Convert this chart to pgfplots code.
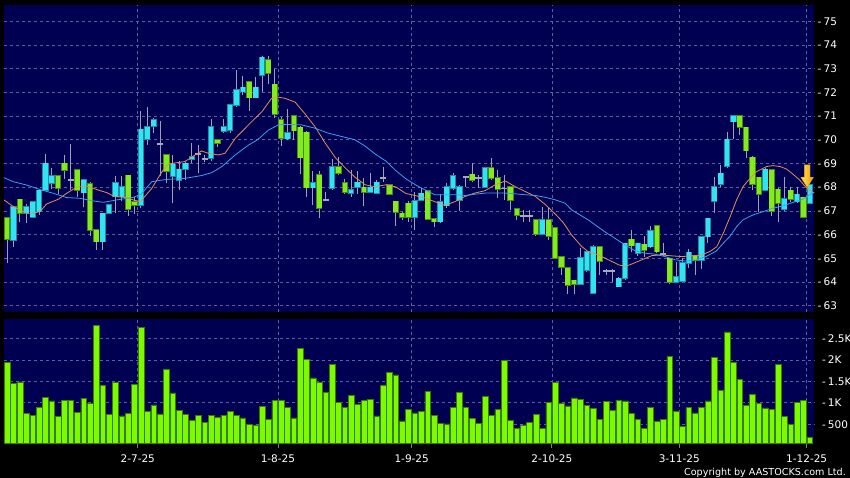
\documentclass[border=0pt]{standalone}
\usepackage{fontspec}
\setmainfont{DejaVu Sans}
\usepackage{pgfplots}
\usepackage{pgfplotstable}
\pgfplotsset{compat=1.18}
\definecolor{bgnavy}{RGB}{0,0,82}
\definecolor{gridcol}{RGB}{95,95,155}
\definecolor{upfill}{RGB}{50,228,242}
\definecolor{upedge}{RGB}{30,140,165}
\definecolor{dnfill}{RGB}{130,235,30}
\definecolor{dnedge}{RGB}{70,140,20}
\definecolor{djcol}{RGB}{165,170,185}
\definecolor{wickcol}{RGB}{160,160,178}
\definecolor{volfill}{RGB}{124,250,0}
\definecolor{voledge}{RGB}{55,125,0}
\definecolor{macolA}{RGB}{232,140,90}
\definecolor{macolB}{RGB}{60,160,240}
\definecolor{arrowA}{RGB}{255,225,90}
\definecolor{arrowB}{RGB}{235,160,0}
\newcommand\lab{\fontsize{10.5}{12}\selectfont}

% up candles: i open high low close
\pgfplotstableread{
i o h l c
2 65.77 67.20 65.49 67.18
4 66.90 67.30 66.50 67.18
5 66.73 67.40 66.70 67.39
6 66.97 67.88 66.83 67.86
7 67.88 69.39 67.85 69.00
8 68.16 68.80 67.91 68.49
13 67.77 68.35 67.15 68.31
16 65.70 66.90 65.35 66.90
17 66.90 67.25 66.88 67.24
18 67.60 68.45 66.90 68.19
19 67.60 68.49 67.40 68.02
22 67.25 71.20 67.10 70.44
23 70.02 71.37 69.80 70.55
24 70.58 70.90 70.30 70.83
27 68.45 69.36 67.32 68.96
28 68.30 69.10 67.88 68.75
29 68.75 69.05 68.30 69.00
30 69.18 69.85 69.00 69.28
33 69.22 70.88 69.10 70.55
35 70.37 70.88 70.30 70.55
36 70.40 71.50 70.30 71.46
37 71.46 72.95 71.40 72.12
38 72.03 72.70 71.90 72.21
40 71.78 72.66 71.75 72.21
41 72.73 73.55 72.03 73.48
45 70.05 71.28 70.00 70.28
49 67.98 68.70 67.26 68.19
52 67.95 69.17 67.90 68.86
55 67.75 68.72 67.60 67.89
56 68.00 68.70 67.70 68.20
58 67.80 68.60 67.75 67.99
59 67.76 68.30 67.70 68.20
65 66.74 67.80 66.20 67.43
66 67.45 67.95 67.40 67.74
69 66.55 67.70 66.50 67.39
70 67.22 68.16 67.10 68.02
71 67.95 68.58 67.90 68.49
72 67.46 68.10 66.99 68.02
76 67.99 68.85 67.95 68.82
85 66.01 67.18 66.00 66.61
91 63.90 65.42 63.85 65.02
92 64.50 65.35 64.40 65.28
93 63.52 65.55 63.50 65.49
97 63.80 64.20 63.80 64.15
98 64.15 65.65 64.10 65.63
100 65.20 65.65 65.10 65.63
102 65.49 66.38 65.45 66.15
106 63.99 64.86 63.95 64.22
107 64.04 65.00 64.00 64.79
108 64.79 65.39 64.58 65.25
110 64.93 65.95 64.55 65.91
111 65.91 66.70 65.66 66.68
112 67.42 68.41 66.90 68.02
113 68.12 68.94 67.99 68.58
114 68.90 70.34 68.80 70.02
115 70.76 71.02 70.02 71.01
120 67.88 68.80 67.85 68.75
123 67.07 68.41 66.98 67.52
125 67.39 67.99 67.35 67.70
127 67.32 68.20 67.30 68.09
}\upc

% down candles: i open high low close
\pgfplotstableread{
i o h l c
1 66.69 66.75 64.79 65.80
3 67.49 67.50 66.52 66.90
9 68.49 68.52 67.71 67.95
10 69.00 69.35 68.35 68.72
12 68.73 68.75 67.60 67.88
14 68.14 68.20 65.92 66.20
15 66.20 66.22 65.35 65.70
20 68.50 68.50 66.80 67.07
21 67.39 67.60 66.85 67.25
26 69.36 69.36 68.16 68.68
34 70.00 70.02 69.70 69.85
39 72.45 72.50 71.23 71.78
42 73.37 73.55 72.35 72.80
43 72.34 73.00 70.90 71.07
44 70.85 70.95 69.75 70.08
46 71.00 71.05 70.00 70.39
47 70.53 70.60 68.56 69.25
48 70.31 70.35 67.60 67.98
50 68.52 68.70 66.70 67.11
53 68.86 69.28 68.50 68.59
54 68.17 68.35 67.70 67.80
57 67.99 68.40 67.20 67.80
61 68.10 68.15 67.65 67.70
62 67.40 67.40 66.38 66.95
63 66.90 66.95 66.60 66.74
64 67.32 67.40 66.55 66.74
67 67.85 67.90 66.60 66.66
68 66.66 66.66 66.33 66.55
74 68.54 69.00 68.20 68.30
77 68.80 69.22 68.30 68.38
78 68.38 68.73 67.53 67.93
80 68.00 68.00 67.04 67.46
81 67.07 67.10 66.62 66.83
84 66.61 66.62 65.95 66.01
86 66.61 67.14 65.77 65.94
87 66.29 66.30 64.95 65.00
88 65.07 65.10 64.30 64.62
89 64.60 64.65 63.48 63.85
90 64.06 64.10 63.48 63.90
94 65.49 65.50 64.30 64.88
99 65.80 66.19 65.28 65.53
101 65.59 65.94 65.07 65.35
103 66.38 66.40 65.20 65.28
105 65.00 65.00 63.90 63.99
109 65.11 65.12 64.30 64.91
116 71.01 71.02 70.20 70.53
117 70.53 70.53 69.22 69.54
118 69.26 69.30 67.90 68.13
119 68.41 68.41 66.97 67.69
121 68.72 68.72 66.79 66.99
122 67.91 67.95 66.55 67.32
124 67.86 68.00 67.39 67.49
126 67.57 67.60 66.70 66.73
}\dnc

% doji candles: i open high low close
\pgfplotstableread{
i o h l c
11 68.30 69.82 67.88 68.30
25 69.81 70.79 68.45 69.81
31 69.40 69.78 68.60 69.40
32 69.20 69.35 69.05 69.20
51 67.45 67.80 67.40 67.45
60 68.38 68.87 68.20 68.38
73 68.42 68.45 68.00 68.42
75 68.40 68.50 67.95 68.40
79 67.95 68.52 67.46 67.95
82 66.78 67.04 66.52 66.78
83 66.78 67.04 66.55 66.78
95 64.46 64.55 64.30 64.46
96 64.46 64.55 63.99 64.46
104 65.17 65.66 65.10 65.17
}\djc

% short moving average (orange)
\pgfplotstableread{
i p
0.5 67.46
1.96 67.18
4.06 66.90
5.1 66.90
6.15 66.97
7.2 67.29
9.03 67.49
10.34 67.74
11.9 68.00
13.5 68.05
15.05 67.90
16.6 67.77
17.9 67.60
19.8 67.56
20.8 67.46
21.9 67.39
23.7 67.95
25.3 68.65
26.3 68.98
28.9 69.08
30.5 69.36
31.5 69.53
32.6 69.43
34.1 69.36
35.2 69.43
36.8 70.06
39.4 70.77
41.0 71.19
42.5 71.75
43.5 71.80
44.6 71.75
46.2 71.59
47.7 71.11
49.3 70.56
50.9 69.87
52.5 69.25
54.0 68.83
55.6 68.42
57.2 68.10
58.8 68.01
60.4 68.10
62.0 68.01
63.6 67.73
65.0 67.65
66.6 67.54
68.1 67.39
69.7 67.23
71.3 67.39
72.9 67.61
74.4 67.75
76.0 67.85
77.6 68.10
79.2 68.26
80.7 68.03
82.3 67.82
83.9 67.61
85.5 67.26
87.1 66.85
88.3 66.50
89.6 65.98
91.2 65.49
92.2 65.28
93.8 65.14
95.4 64.93
97.0 64.72
98.0 64.65
99.0 64.75
100.6 64.93
102.2 65.11
103.7 65.14
105.3 65.10
106.9 65.07
108.5 65.10
110.0 65.14
111.3 65.28
112.4 65.49
113.4 66.05
114.5 66.76
115.5 67.46
116.5 68.02
117.6 68.37
118.6 68.65
120.2 68.87
121.2 68.91
122.3 68.87
123.3 68.77
124.3 68.56
125.4 68.30
126.4 67.99
127.2 67.81
127.7 67.75
}\maA

% long moving average (blue)
\pgfplotstableread{
i p
0.5 68.40
1.96 68.23
4.06 68.09
6.15 67.90
8.25 67.74
10.34 67.56
12.4 67.53
14.5 67.42
16.1 67.36
18.2 67.46
20.8 67.57
22.0 67.70
23.7 68.23
25.3 68.30
26.3 68.33
28.9 68.37
31.5 68.49
33.1 68.61
34.7 68.87
36.8 69.36
38.9 69.78
40.4 70.02
42.0 70.41
43.6 70.63
44.5 70.65
47.2 70.63
49.3 70.49
51.4 70.28
53.5 70.14
55.6 70.00
57.2 69.73
58.8 69.39
60.4 69.11
62.0 68.70
63.6 68.35
65.2 68.08
66.7 67.87
68.1 67.68
69.7 67.68
71.3 67.68
72.9 67.65
74.4 67.70
76.0 67.75
79.2 67.75
80.7 67.72
82.3 67.68
83.9 67.65
85.5 67.57
87.1 67.46
88.6 67.32
89.6 67.04
92.2 66.62
94.8 66.12
96.4 65.84
98.0 65.56
99.6 65.31
101.2 65.21
102.7 65.17
104.3 65.07
105.9 64.93
107.5 64.88
109.1 64.93
110.7 65.07
112.3 65.30
113.4 65.63
114.5 65.94
115.5 66.33
116.5 66.62
118.1 66.83
119.7 66.97
121.2 67.11
122.8 67.21
124.3 67.35
125.9 67.49
127.2 67.71
127.7 67.80
}\maB

% volume
\pgfplotstableread{
i v
1 1942
2 1453
3 1484
4 756
5 709
6 895
7 1128
8 1042
9 677
10 1049
11 1065
12 770
13 1105
14 995
15 2809
16 1398
17 733
18 1468
19 693
20 756
21 1437
22 2756
23 802
24 949
25 740
26 1786
27 1228
28 816
29 723
30 584
31 716
32 553
33 700
34 663
35 716
36 793
37 716
38 647
39 500
40 467
41 909
42 616
43 1058
44 1058
45 886
46 647
47 2274
48 2012
49 1577
50 1477
51 1251
52 1895
53 1012
54 902
55 1165
56 965
57 1065
58 1088
59 693
60 1407
61 1716
62 1647
63 577
64 840
65 763
66 793
67 1258
68 709
69 514
70 507
71 886
72 1235
73 886
74 630
75 514
76 1158
77 709
78 840
79 1988
80 584
81 407
82 484
83 553
84 733
85 407
86 1002
87 1468
88 979
89 926
90 1112
91 1081
92 942
93 863
94 623
95 1035
96 816
97 1065
98 1042
99 747
100 623
101 407
102 902
103 570
104 616
105 2072
106 809
107 444
108 886
109 763
110 902
111 1042
112 2049
113 1291
114 2647
115 1942
116 1547
117 933
118 1188
119 979
120 879
121 849
122 1895
123 686
124 500
125 1002
126 1049
127 188
}\vol

\pgfplotsset{
  panel/.style={
    scale only axis, anchor=south west, width=810.3pt,
    xmin=0.5, xmax=127.7,
    axis background/.style={fill=bgnavy},
    axis line style={draw=none},
    xtick={21.5,43.5,64.5,86.5,106.5,126.5},
    grid=major,
    major grid style={draw=gridcol, line width=0.6pt, dash pattern=on 3pt off 3pt},
    ytick pos=right, yticklabel pos=right,
    ytick style={draw=none},
    yticklabel style={anchor=west, inner sep=0pt, xshift=3.2pt, text=white, font=\lab},
  },
  wick/.style={draw=none, mark=none, forget plot,
    error bars/.cd, y dir=plus, y explicit, error mark=none,
    error bar style={draw=wickcol, line width=1pt, solid}},
  body/.style 2 args={draw=none, mark=none, forget plot,
    error bars/.cd, y dir=plus, y explicit, error mark=none,
    error bar style={draw=#1, line width=#2, solid}},
}
\newcommand\pl[1]{-\kern2.2pt#1}
\newcommand\vl[1]{-\kern2pt#1}

\begin{document}
\begin{tikzpicture}
\useasboundingbox (0pt,0pt) rectangle (850pt,478pt);
\fill[black] (0pt,0pt) rectangle (850pt,478pt);

\begin{axis}[panel, at={(4pt,166pt)}, height=307pt,
  ymin=62.73, ymax=75.69,
  xticklabel={}, xtick style={draw=none},
  ytick={63,64,65,66,67,68,69,70,71,72,73,74,75},
  yticklabels={\pl{63},\pl{64},\pl{65},\pl{66},\pl{67},\pl{68},\pl{69},\pl{70},\pl{71},\pl{72},\pl{73},\pl{74},\pl{75}},
]
% wicks
\addplot[wick] table[x=i, y=l, y error plus expr={\thisrow{h}-\thisrow{l}}] {\upc};
\addplot[wick] table[x=i, y=l, y error plus expr={\thisrow{h}-\thisrow{l}}] {\dnc};
\addplot[wick] table[x=i, y=l, y error plus expr={\thisrow{h}-\thisrow{l}}] {\djc};
% up bodies
\addplot[body={upedge}{6.2pt}] table[x=i, y expr={\thisrow{o}-0.03}, y error plus expr={\thisrow{c}-\thisrow{o}+0.06}] {\upc};
\addplot[body={upfill}{4.6pt}] table[x=i, y=o, y error plus expr={\thisrow{c}-\thisrow{o}}] {\upc};
% down bodies
\addplot[body={dnedge}{6.2pt}] table[x=i, y expr={\thisrow{c}-0.03}, y error plus expr={\thisrow{o}-\thisrow{c}+0.06}] {\dnc};
\addplot[body={dnfill}{4.6pt}] table[x=i, y=c, y error plus expr={\thisrow{o}-\thisrow{c}}] {\dnc};
% doji
\addplot[body={djcol}{6.2pt}] table[x=i, y expr={\thisrow{o}-0.035}, y error plus expr={0.07}] {\djc};
% moving averages
\addplot[macolA, line width=0.8pt, mark=none] table[x=i, y=p] {\maA};
\addplot[macolB, line width=0.8pt, mark=none] table[x=i, y=p] {\maB};
% arrow marker
\path[draw=arrowB, line width=0.4pt, left color=arrowA, right color=arrowB]
  (axis cs:126.13,68.94) -- (axis cs:127.03,68.94) -- (axis cs:127.03,68.42)
  -- (axis cs:127.56,68.42) -- (axis cs:126.58,67.99) -- (axis cs:125.60,68.42)
  -- (axis cs:126.13,68.42) -- cycle;
\end{axis}

\begin{axis}[panel, at={(4pt,34.7pt)}, height=124.3pt,
  ymin=58, ymax=2949,
  yticklabel style={xshift=-0.6pt},
  ytick={500,1000,1500,2000,2500},
  yticklabels={\vl{500},\vl{1K},\vl{1.5K},\vl{2K},\vl{2.5K}},
  xticklabels={2-7-25,1-8-25,1-9-25,2-10-25,3-11-25,1-12-25},
  xtick pos=lower, tick align=outside, major tick length=5pt,
  xtick style={draw=gray, line width=0.8pt, solid},
  xticklabel style={anchor=north, inner sep=0pt, yshift=-6.4pt, text=white, font=\lab},
]
\addplot[ybar, bar width=5.7pt, fill=volfill, draw=voledge, line width=0.5pt] table[x=i, y=v] {\vol};
\end{axis}

\node[anchor=base east, text=white, font=\fontsize{9.6}{11}\selectfont, inner sep=0pt] at (846pt,2.8pt) {Copyright by AASTOCKS.com Ltd.};
\end{tikzpicture}
\end{document}
